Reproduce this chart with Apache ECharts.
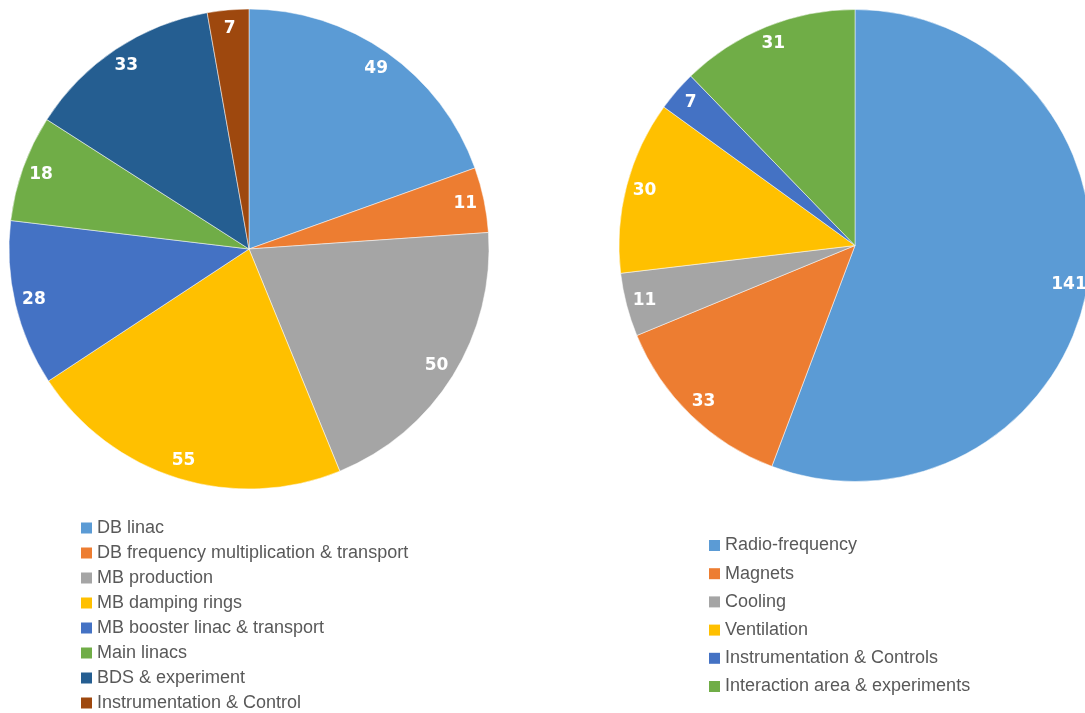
<!DOCTYPE html>
<html>
<head>
<meta charset="utf-8">
<script src="https://cdn.jsdelivr.net/npm/echarts@6/dist/echarts.min.js"></script>
<style>
html,body{margin:0;padding:0;background:#fff;}
#c{width:1085px;height:713px;}
</style>
</head>
<body>
<div id="c"></div>
<script>
// Left pie data
var leftCategories = ['DB linac', 'DB frequency multiplication & transport', 'MB production', 'MB damping rings', 'MB booster linac & transport', 'Main linacs', 'BDS & experiment', 'Instrumentation & Control'];
var leftValues = [49, 11, 50, 55, 28, 18, 33, 7];
// Right pie data
var rightCategories = ['Radio-frequency', 'Magnets', 'Cooling', 'Ventilation', 'Instrumentation & Controls', 'Interaction area & experiments'];
var rightValues = [141, 33, 11, 30, 7, 31];

var leftColors = ['#5B9BD5', '#ED7D31', '#A5A5A5', '#FFC000', '#4472C4', '#70AD47', '#255E91', '#9E480E'];
var rightColors = ['#5B9BD5', '#ED7D31', '#A5A5A5', '#FFC000', '#4472C4', '#70AD47'];

function toData(names, vals, colors) {
  return names.map(function (n, i) {
    var d = { name: n, value: vals[i] };
    if (colors) d.itemStyle = { color: colors[i] };
    return d;
  });
}

var labelStyle = {
  show: true,
  position: 'inside',
  formatter: '{c}',
  color: '#ffffff',
  fontFamily: 'DejaVu Sans',
  fontWeight: 'bold',
  fontSize: 17
};

function pieSeries(center, r, r0, names, vals, colors) {
  return [
    {
      type: 'pie',
      center: center,
      radius: [0, r],
      startAngle: 90,
      clockwise: true,
      avoidLabelOverlap: false,
      label: { show: false },
      labelLine: { show: false },
      itemStyle: { borderColor: '#ffffff', borderWidth: 0.5 },
      emphasis: { disabled: true },
      animation: false,
      data: toData(names, vals, colors)
    },
    {
      type: 'pie',
      center: center,
      radius: [r0, r],
      startAngle: 90,
      clockwise: true,
      silent: true,
      avoidLabelOverlap: false,
      label: labelStyle,
      labelLine: { show: false },
      itemStyle: { color: 'rgba(0,0,0,0)', borderWidth: 0 },
      emphasis: { disabled: true },
      animation: false,
      data: toData(names, vals, null)
    }
  ];
}

var legendText = { color: '#595959', fontFamily: 'Liberation Sans', fontSize: 18, lineHeight: 20 };

var chart = echarts.init(document.getElementById('c'));
chart.setOption({
  backgroundColor: '#ffffff',
  animation: false,
  legend: [
    {
      data: leftCategories,
      orient: 'vertical',
      left: 81,
      top: 518,
      height: 195,
      padding: 0,
      itemWidth: 11,
      itemHeight: 11,
      itemGap: 5,
      icon: 'rect',
      itemStyle: { borderWidth: 0 },
      selectedMode: false,
      textStyle: legendText
    },
    {
      data: rightCategories,
      orient: 'vertical',
      left: 709,
      top: 535.5,
      height: 177,
      padding: 0,
      itemWidth: 11,
      itemHeight: 11,
      itemGap: 8.2,
      icon: 'rect',
      itemStyle: { borderWidth: 0 },
      selectedMode: false,
      textStyle: legendText
    }
  ],
  series: pieSeries([249, 249], 240, 196, leftCategories, leftValues, leftColors)
    .concat(pieSeries([855, 245.5], 236, 193, rightCategories, rightValues, rightColors))
});
</script>
</body>
</html>
